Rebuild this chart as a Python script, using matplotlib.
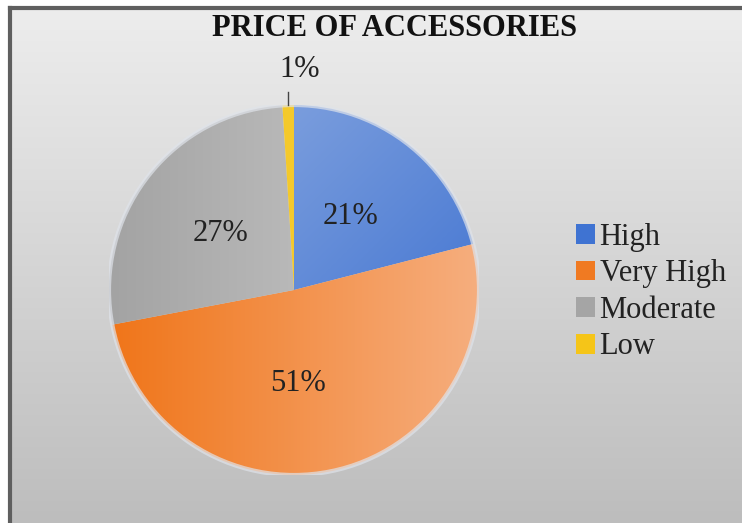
import numpy as np
import matplotlib
matplotlib.use("Agg")
import matplotlib.pyplot as plt
from matplotlib.colors import LinearSegmentedColormap
from matplotlib.patches import Patch

# chart data
categories = ["High", "Very High", "Moderate", "Low"]
shares = [21, 51, 27, 1]
title = "PRICE OF ACCESSORIES"

# gradient end colours per slice (start, end) and the flat legend colour
grad_colors = [("#7a9ddd", "#3b6fd0"),
               ("#f07519", "#f6ae7e"),
               ("#a3a3a3", "#bdbdbd"),
               ("#f2c20f", "#f8d24a")]
legend_colors = ["#3f73d2", "#f07a22", "#a5a5a5", "#f5c518"]

W, H = 742, 523
fig = plt.figure(figsize=(W / 100, H / 100), dpi=100)
fig.patch.set_facecolor("white")

# chart area with a vertical grey gradient
bg = fig.add_axes([10 / W, 0, (W - 10) / W, (H - 8) / H])
bg_cmap = LinearSegmentedColormap.from_list("bg", ["#bdbdbd", "#ededed"])
bg.imshow(np.linspace(0, 1, 256).reshape(-1, 1), cmap=bg_cmap, aspect="auto",
          origin="lower", extent=(0, 1, 0, 1))
bg.set_xlim(0, 1)
bg.set_ylim(0, 1)
bg.set_xticks([])
bg.set_yticks([])
for side in ("right", "bottom"):
    bg.spines[side].set_visible(False)
for side in ("left", "top"):
    bg.spines[side].set_color("#5f5f5f")
    bg.spines[side].set_linewidth(3)

fig.text(395 / W, 1 - 29 / H, title, ha="center", va="center",
         fontsize=22, fontweight="bold", family="Liberation Serif", color="#111111")

# pie axes: centre (294, 290) px, radius 185 px
cx, cy, r = 294, 290, 185
ax = fig.add_axes([(cx - r) / W, (H - cy - r) / H, 2 * r / W, 2 * r / H])
ax.set_xlim(-1, 1)
ax.set_ylim(-1, 1)
ax.axis("off")
ax.patch.set_alpha(0)

wedges, texts, autotexts = ax.pie(
    shares, startangle=90, counterclock=False, radius=1,
    autopct="%.0f%%", pctdistance=0.5, labels=None,
    wedgeprops=dict(linewidth=0),
    textprops=dict(fontsize=22, family="Liberation Serif", color="#222222"))

# soft light rim round the pie
rim = plt.Circle((0, 0), 1.0, fill=False, edgecolor="#dfe3ea", linewidth=3, alpha=0.7)
ax.add_patch(rim)

# fill each wedge with a gradient clipped to its shape
xx, yy = np.meshgrid(np.linspace(-1, 1, 300), np.linspace(-1, 1, 300))
grad_fields = [
    (xx - yy + 1) / 2.6,    # blue: light top-left, dark bottom-right
    (xx + 1) / 2,           # orange: dark left, light right
    (xx + 1) / 1.2,         # grey: slightly lighter towards the centre
    (xx + 1) / 2,
]
for w, (c0, c1), field in zip(wedges, grad_colors, grad_fields):
    w.set_facecolor("none")
    cmap = LinearSegmentedColormap.from_list("g", [c0, c1])
    im = ax.imshow(np.clip(field, 0, 1), cmap=cmap, vmin=0, vmax=1,
                   extent=(-1, 1, -1, 1), origin="lower", zorder=0.5)
    im.set_clip_path(w)

ax.set_xlim(-1, 1)
ax.set_ylim(-1, 1)

# the 51% label sits near the vertical middle of its slice
x51, y51 = autotexts[1].get_position()
autotexts[1].set_position((x51 - 0.09, y51 - 0.02))

# small slice: label outside with a short leader line
low = wedges[3]
mid = np.deg2rad((low.theta1 + low.theta2) / 2)
autotexts[3].set_position((0.03, 1.19))
ax.plot([np.cos(mid) * 1.0, np.cos(mid) * 1.0], [1.0, 1.07],
        color="#444444", linewidth=1, clip_on=False)
for t in autotexts:
    t.set_zorder(5)

handles = [Patch(facecolor=c, edgecolor="none") for c in legend_colors]
fig.legend(handles, categories, loc="center left",
           bbox_to_anchor=(576 / W, 1 - 292 / H), frameon=False,
           prop=dict(family="Liberation Serif", size=22),
           labelcolor="#222222",
           handlelength=0.62, handleheight=0.62, handletextpad=0.15,
           labelspacing=0.25, borderpad=0, borderaxespad=0)

fig.savefig("out.png", dpi=100)
